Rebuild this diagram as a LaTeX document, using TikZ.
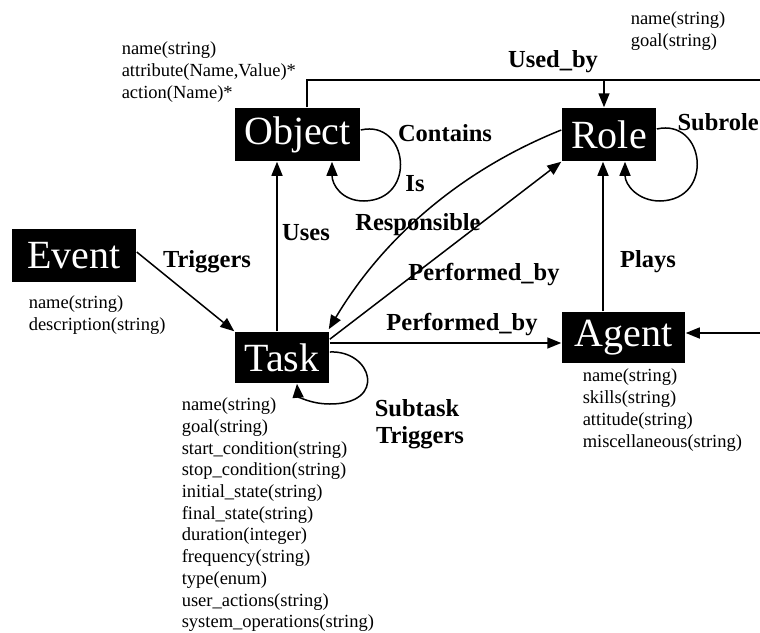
\documentclass[tikz,border=0pt]{standalone}
\usepackage{fontspec}
\setmainfont{Liberation Serif}
\usetikzlibrary{arrows.meta,calc}
\begin{document}
\begin{tikzpicture}[x=1pt,y=-1pt,line width=1.5pt,
  ent/.style={fill=black,text=white,inner sep=0pt,font=\fontsize{40}{40}\selectfont},
  rel/.style={font=\bfseries\fontsize{24.5}{26}\selectfont,inner sep=0pt},
  attr/.style={font=\fontsize{18.5}{22}\selectfont,align=left,anchor=north west,inner sep=0pt},
  arr/.style={-{Triangle[length=14pt,width=11pt]}}]
\useasboundingbox (0,0) rectangle (760,632);

% entities
\node[ent,minimum width=125pt,minimum height=53pt] (obj)   at (297.5,134.5) {Object};
\node[ent,minimum width=94pt,minimum height=53pt]  (role)  at (609,134.5)   {Role};
\node[ent,minimum width=124pt,minimum height=53pt] (event) at (74,255.5)    {Event};
\node[ent,minimum width=94pt,minimum height=51pt]  (task)  at (282,357.5)   {Task};
\node[ent,minimum width=123pt,minimum height=51pt] (agent) at (623.5,337.5) {Agent};

% attribute lists
\node[attr] (objattr) at (121,40.7) {name(string)\\attribute(Name,Value)*\\action(Name)*};
\node[attr] (roleattr) at (630,10.7) {name(string)\\goal(string)};
\node[attr] (eventattr) at (28,294.7) {name(string)\\description(string)};
\node[attr,font=\fontsize{18.5}{21.7}\selectfont] (taskattr) at (181,397.2) {name(string)\\goal(string)\\start\_condition(string)\\stop\_condition(string)\\initial\_state(string)\\final\_state(string)\\duration(integer)\\frequency(string)\\type(enum)\\user\_actions(string)\\system\_operations(string)};
\node[attr] (agentattr) at (582,367.7) {name(string)\\skills(string)\\attitude(string)\\miscellaneous(string)};

% free ends running off the right edge
\coordinate (ubEnd) at (760,80);
\coordinate (agIn) at (760,333);
\coordinate (pbA) at ([yshift=14.5pt]task.east);

% Used_by
\draw ([xshift=9.5pt]obj.north) |- (ubEnd);
\draw[arr] ([xshift=-5pt]role.north |- ubEnd) -- ([xshift=-5pt]role.north);

% self loops
\draw[arr] ([yshift=4.5pt]obj.east) .. controls (408,119) and (418,200) .. (364,201)
  .. controls (342,201) and (332,185) .. ([xshift=34.5pt]obj.south);
\draw[arr] ([yshift=5.5pt]role.east) .. controls (705,118) and (715,200) .. (660,201)
  .. controls (638,201) and (625,185) .. ([xshift=16pt]role.south);
\draw[arr] ([yshift=5.5pt]task.east) .. controls (372,350) and (388,404) .. (330,404)
  .. controls (310,404) and (298,396) .. ([xshift=15pt]task.south);

% relations
\draw[arr] ([xshift=-5pt]task.north) -- ([xshift=-20.5pt]obj.south);
\draw[arr] ([yshift=3.5pt]event.east) -- (task.north west);
\draw[arr] (pbA) -- (agent.west |- pbA);
\draw[arr] (agIn) -- (agent.east |- agIn);
\draw[arr] ([xshift=-20.5pt]agent.north) -- ([xshift=-6pt]role.south);
\draw[arr] ([yshift=4.5pt]role.west) .. controls (464,169) and (385,235) .. ([xshift=-1pt,yshift=2pt]task.north east);
\draw[arr] ([yshift=-8pt]task.north east) -- (role.south west);

% relation labels
\node[rel] (lUsedby) at (553,62) {Used\_by};
\node[rel] (lContains) at (445,133) {Contains};
\node[rel] (lIs) at (415,184) {Is};
\node[rel,anchor=east] (lSubrole) at (759.5,122) {Subrole};
\node[rel] (lUses) at (306,233) {Uses};
\node[rel] (lResp) at (418,225) {Responsible};
\node[rel] (lPerf1) at (484,275) {Performed\_by};
\node[rel] (lPerf2) at (462,325) {Performed\_by};
\node[rel] (lPlays) at (648,262) {Plays};
\node[rel] (lTrig) at (207,262) {Triggers};
\node[rel] (lSubtask) at (417,408) {Subtask};
\node[rel] (lTrig2) at (420,438) {Triggers};
\end{tikzpicture}
\end{document}
